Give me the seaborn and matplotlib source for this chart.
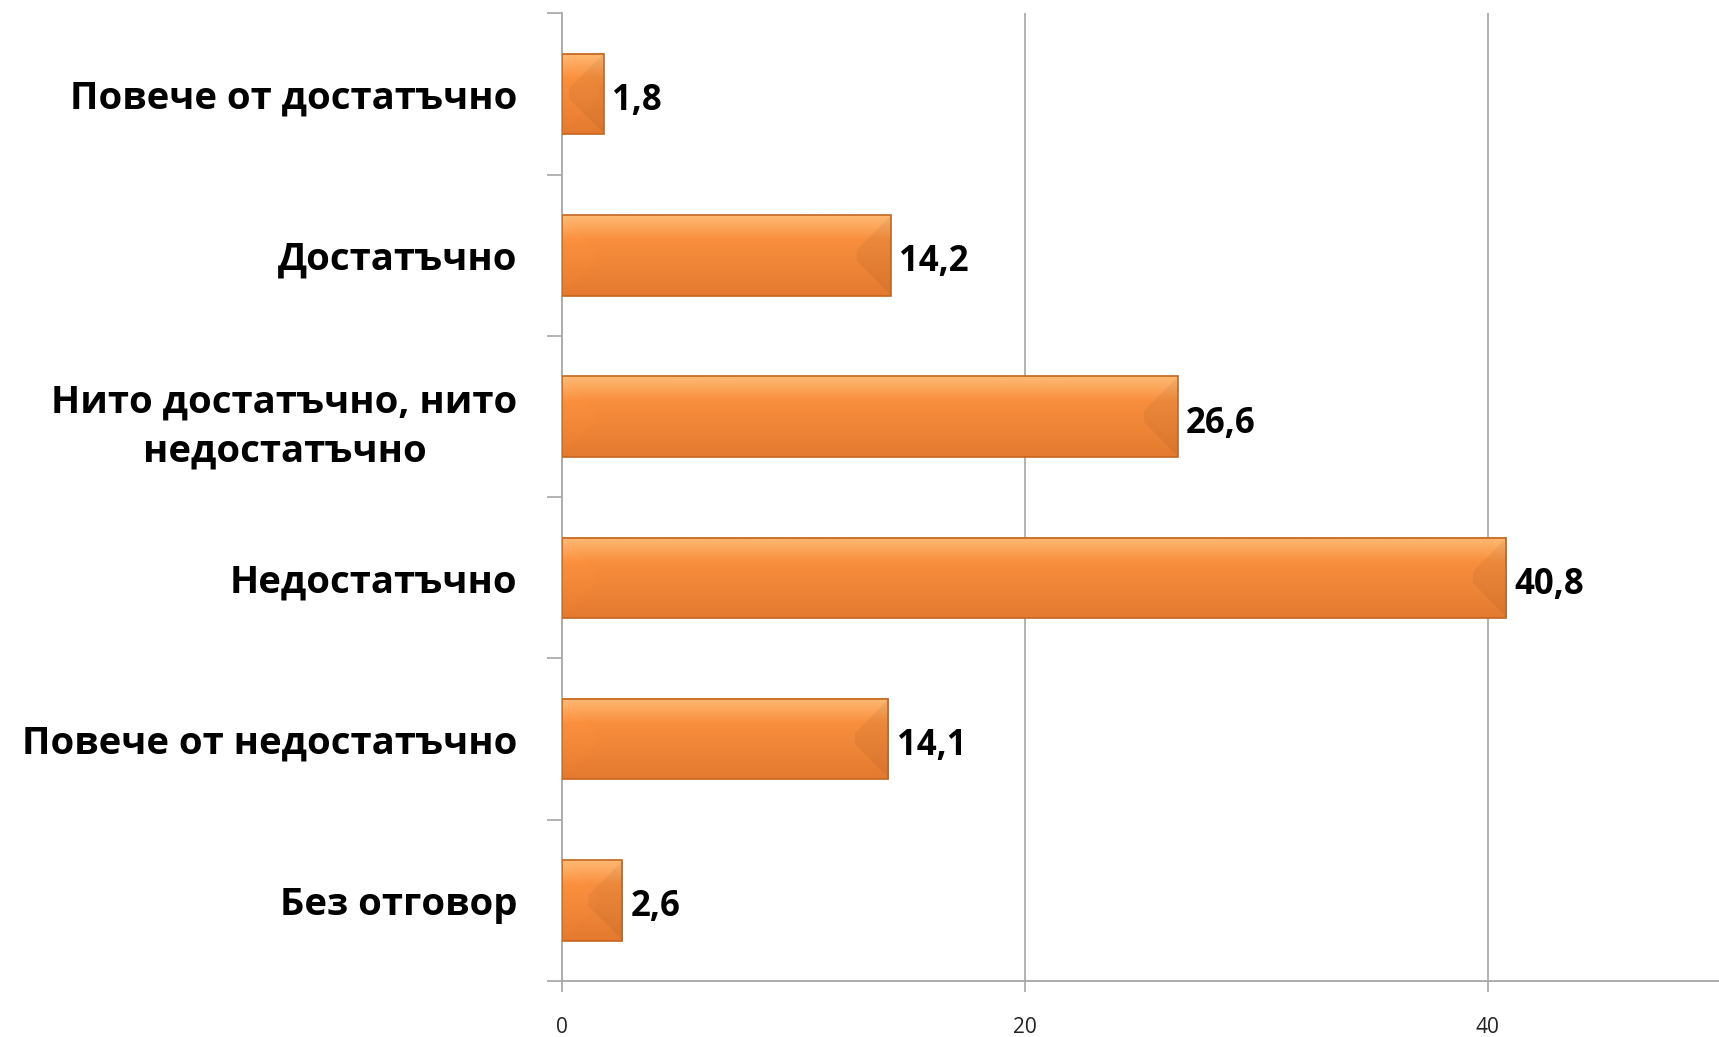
import numpy as np
import pandas as pd
import matplotlib
matplotlib.use('Agg')
import matplotlib.pyplot as plt
import seaborn as sns
from matplotlib.colors import to_rgb

# Данни
categories = ['Повече от достатъчно', 'Достатъчно', 'Нито достатъчно, нито\nнедостатъчно',
              'Недостатъчно', 'Повече от недостатъчно', 'Без отговор']
values = [1.8, 14.2, 26.6, 40.8, 14.1, 2.6]
x_ticks = [0, 20, 40]

df = pd.DataFrame({'cat': categories, 'val': values})

sns.set_style('white')
plt.rcParams['font.family'] = ['Open Sans', 'Noto Sans', 'DejaVu Sans']

fig = plt.figure(figsize=(17.19, 10.37), dpi=100)
ax = fig.add_axes([0.327, 0.054, 0.673, 0.933])

sns.barplot(data=df, x='val', y='cat', orient='h', color='#F68C3C', width=0.5,
            edgecolor='#C4661F', linewidth=1.2, ax=ax)

ax.set_xlim(0, 50)
ax.set_ylim(len(categories) - 0.5, -0.5)
ax.set_xlabel('')
ax.set_ylabel('')

# оси и мрежа
for s in ['top', 'right']:
    ax.spines[s].set_visible(False)
for s in ['left', 'bottom']:
    ax.spines[s].set_color('#A6A6A6')
    ax.spines[s].set_linewidth(1.3)
ax.set_xticks(x_ticks)
ax.set_xticklabels([str(t) for t in x_ticks], fontsize=15, color='#222222')
ax.tick_params(axis='x', length=8, width=1.2, color='#A6A6A6', pad=18, direction='out', bottom=True)
for t in x_ticks[1:]:
    ax.axvline(t, color='#A6A6A6', lw=1.2, zorder=0)

ax.set_yticks(range(len(categories)))
ax.set_yticklabels(categories, fontsize=27.5, fontweight='bold', color='black')
for lab in ax.get_yticklabels():
    lab.set_multialignment('center')
    lab.set_linespacing(1.4)
ax.tick_params(axis='y', which='major', length=0, pad=32)
ax.set_yticks(np.arange(-0.5, len(categories), 1), minor=True)
ax.tick_params(axis='y', which='minor', length=11, width=1.2, color='#A6A6A6', left=True)

# градиент върху стълбовете
c_top = np.array(to_rgb('#FFBA74'))
c_mid = np.array(to_rgb('#F88F3E'))
c_bot = np.array(to_rgb('#E47A2F'))
px_per_x = ax.transData.transform((1, 0))[0] - ax.transData.transform((0, 0))[0]
px_per_y = abs(ax.transData.transform((0, 1))[1] - ax.transData.transform((0, 0))[1])
for p in ax.patches:
    x0, y0, w, h = p.get_x(), p.get_y(), p.get_width(), p.get_height()
    W = max(int(w * px_per_x), 2)
    H = max(int(abs(h) * px_per_y), 2)
    v = np.linspace(0, 1, H)[:, None]
    col = np.where(v < 0.3,
                   c_top + (c_mid - c_top) * np.clip(v / 0.3, 0, 1),
                   c_mid + (c_bot - c_mid) * np.clip((v - 0.3) / 0.7, 0, 1))
    img = np.repeat(col[:, None, :], W, axis=1).reshape(H, W, 3)
    u = np.arange(W)[None, :]
    vv = np.arange(H)[:, None]
    b = 0.42 * H
    d_edge = np.minimum(vv, H - 1 - vv)
    right = ((W - 1 - u) < b) & ((W - 1 - u) < d_edge)
    left = (u < b) & (u < d_edge)
    img[right] = img[right] * 0.95
    img[left] = np.clip(img[left] * 1.01, 0, 1)
    ax.imshow(img, extent=[x0, x0 + w, y0 + h, y0], aspect='auto',
              interpolation='bilinear', zorder=2.5, clip_path=p)
    p.set_facecolor('none')
    p.set_zorder(3)

ax.set_xlim(0, 50)
ax.set_ylim(len(categories) - 0.5, -0.5)

# стойности
for i, v in enumerate(values):
    ax.annotate(f'{v:.1f}'.replace('.', ','), (v, i), xytext=(6, -5),
                textcoords='offset points', ha='left', va='center',
                fontsize=25, fontweight='bold', color='black')

fig.savefig('out.png', dpi=100)
